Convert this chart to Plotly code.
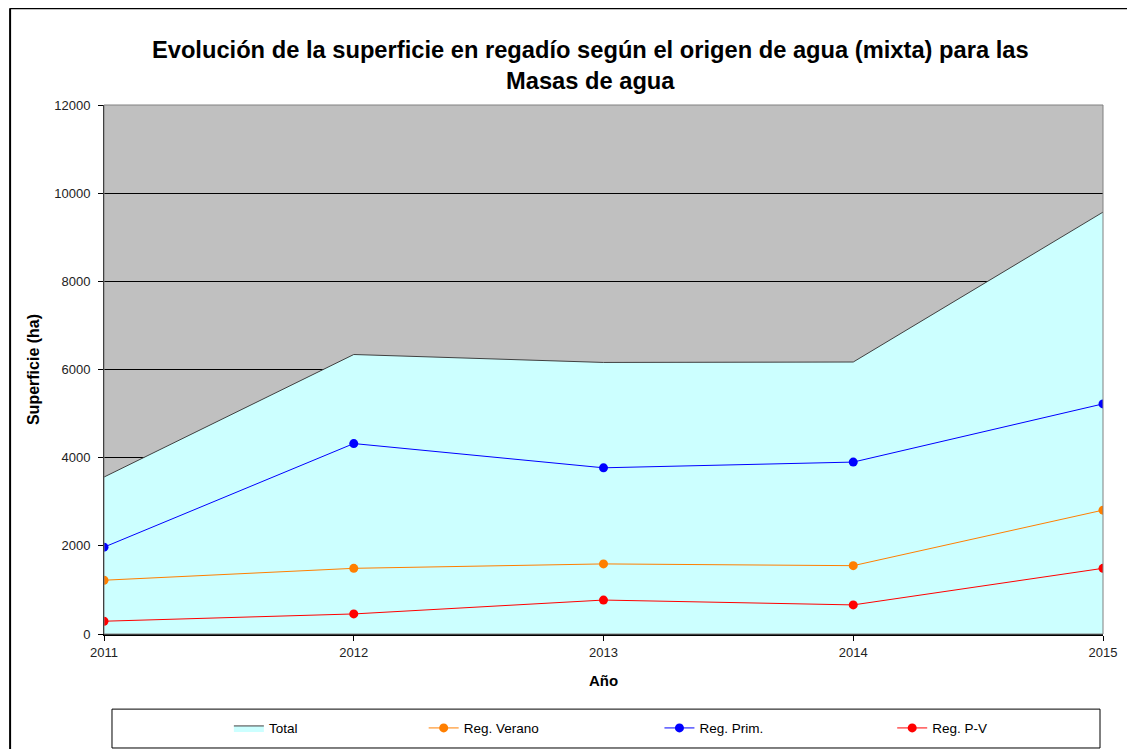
import plotly.graph_objects as go

years = [2011, 2012, 2013, 2014, 2015]
total = [3560, 6340, 6160, 6170, 9570]
reg_verano = [1220, 1490, 1590, 1550, 2810]
reg_prim = [1970, 4320, 3770, 3900, 5220]
reg_pv = [290, 455, 770, 660, 1490]

FONT = 'Arial, Liberation Sans, sans-serif'

fig = go.Figure()

fig.add_trace(go.Scatter(
    x=years, y=total, name='Total', mode='lines',
    fill='tozeroy', fillcolor='#CCFFFF',
    line=dict(color='#404040', width=1),
    showlegend=True, legend='legend',
))
series = [('Reg. Verano', reg_verano, '#FF7F00', 'legend2'),
          ('Reg. Prim.', reg_prim, '#0000FF', 'legend3'),
          ('Reg. P-V', reg_pv, '#FF0000', 'legend4')]
for name, vals, color, leg in series:
    fig.add_trace(go.Scatter(
        x=years, y=vals, name=name, mode='lines+markers',
        line=dict(color=color, width=1),
        marker=dict(color=color, size=9),
        showlegend=True, legend=leg,
    ))

# one legend per entry, spaced like the original
leg_common = dict(orientation='h', xanchor='left', y=-0.178, yanchor='middle',
                  itemwidth=30, bgcolor='rgba(0,0,0,0)', font=dict(size=13.5))

fig.update_layout(
    width=1135, height=749, showlegend=True,
    paper_bgcolor='white', plot_bgcolor='#C0C0C0',
    font=dict(family=FONT, size=12, color='black'),
    margin=dict(l=96, r=40, t=97, b=123),
    title=dict(
        text='<b>Evolución de la superficie en regadío según el origen de agua (mixta) para las<br>Masas de agua</b>',
        font=dict(family=FONT, size=23.7, color='black'),
        x=0.513, xanchor='center', y=0.933, yanchor='middle',
    ),
    legend=dict(x=0.125, **leg_common),
    legend2=dict(x=0.320, **leg_common),
    legend3=dict(x=0.556, **leg_common),
    legend4=dict(x=0.789, **leg_common),
    shapes=[
        # plot area border
        dict(type='rect', xref='paper', yref='paper', x0=0, x1=1, y0=0, y1=1,
             line=dict(color='#808080', width=1)),
        # legend box
        dict(type='rect', xref='paper', yref='paper', x0=0.008, x1=0.997,
             y0=-0.2155, y1=-0.142, line=dict(color='black', width=1)),
        # chart frame: top and left edges only
        dict(type='line', xref='paper', yref='paper', x0=-0.094, x1=1.2,
             y0=1.183, y1=1.183, line=dict(color='black', width=2)),
        dict(type='line', xref='paper', yref='paper', x0=-0.094, x1=-0.094,
             y0=1.183, y1=-0.5, line=dict(color='black', width=2)),
    ],
)

fig.update_xaxes(
    range=[2011, 2015], tickvals=years, ticks='outside', ticklen=5,
    tickcolor='black', showline=True, linecolor='black', linewidth=2,
    showgrid=False, zeroline=False,
    tickfont=dict(size=13, color='#222'),
    title=dict(text='<b>Año</b>', font=dict(size=15), standoff=17),
)
fig.update_yaxes(
    range=[0, 12000], dtick=2000, tickformat='d', ticks='outside', ticklen=5,
    tickcolor='black', showline=True, linecolor='black', linewidth=1,
    showgrid=True, gridcolor='black', gridwidth=1, zeroline=False,
    tickfont=dict(size=13, color='#222'), ticklabelstandoff=5,
    title=dict(text='<b>Superficie (ha)</b>', font=dict(size=16), standoff=10),
)

fig.write_html('out.html')
